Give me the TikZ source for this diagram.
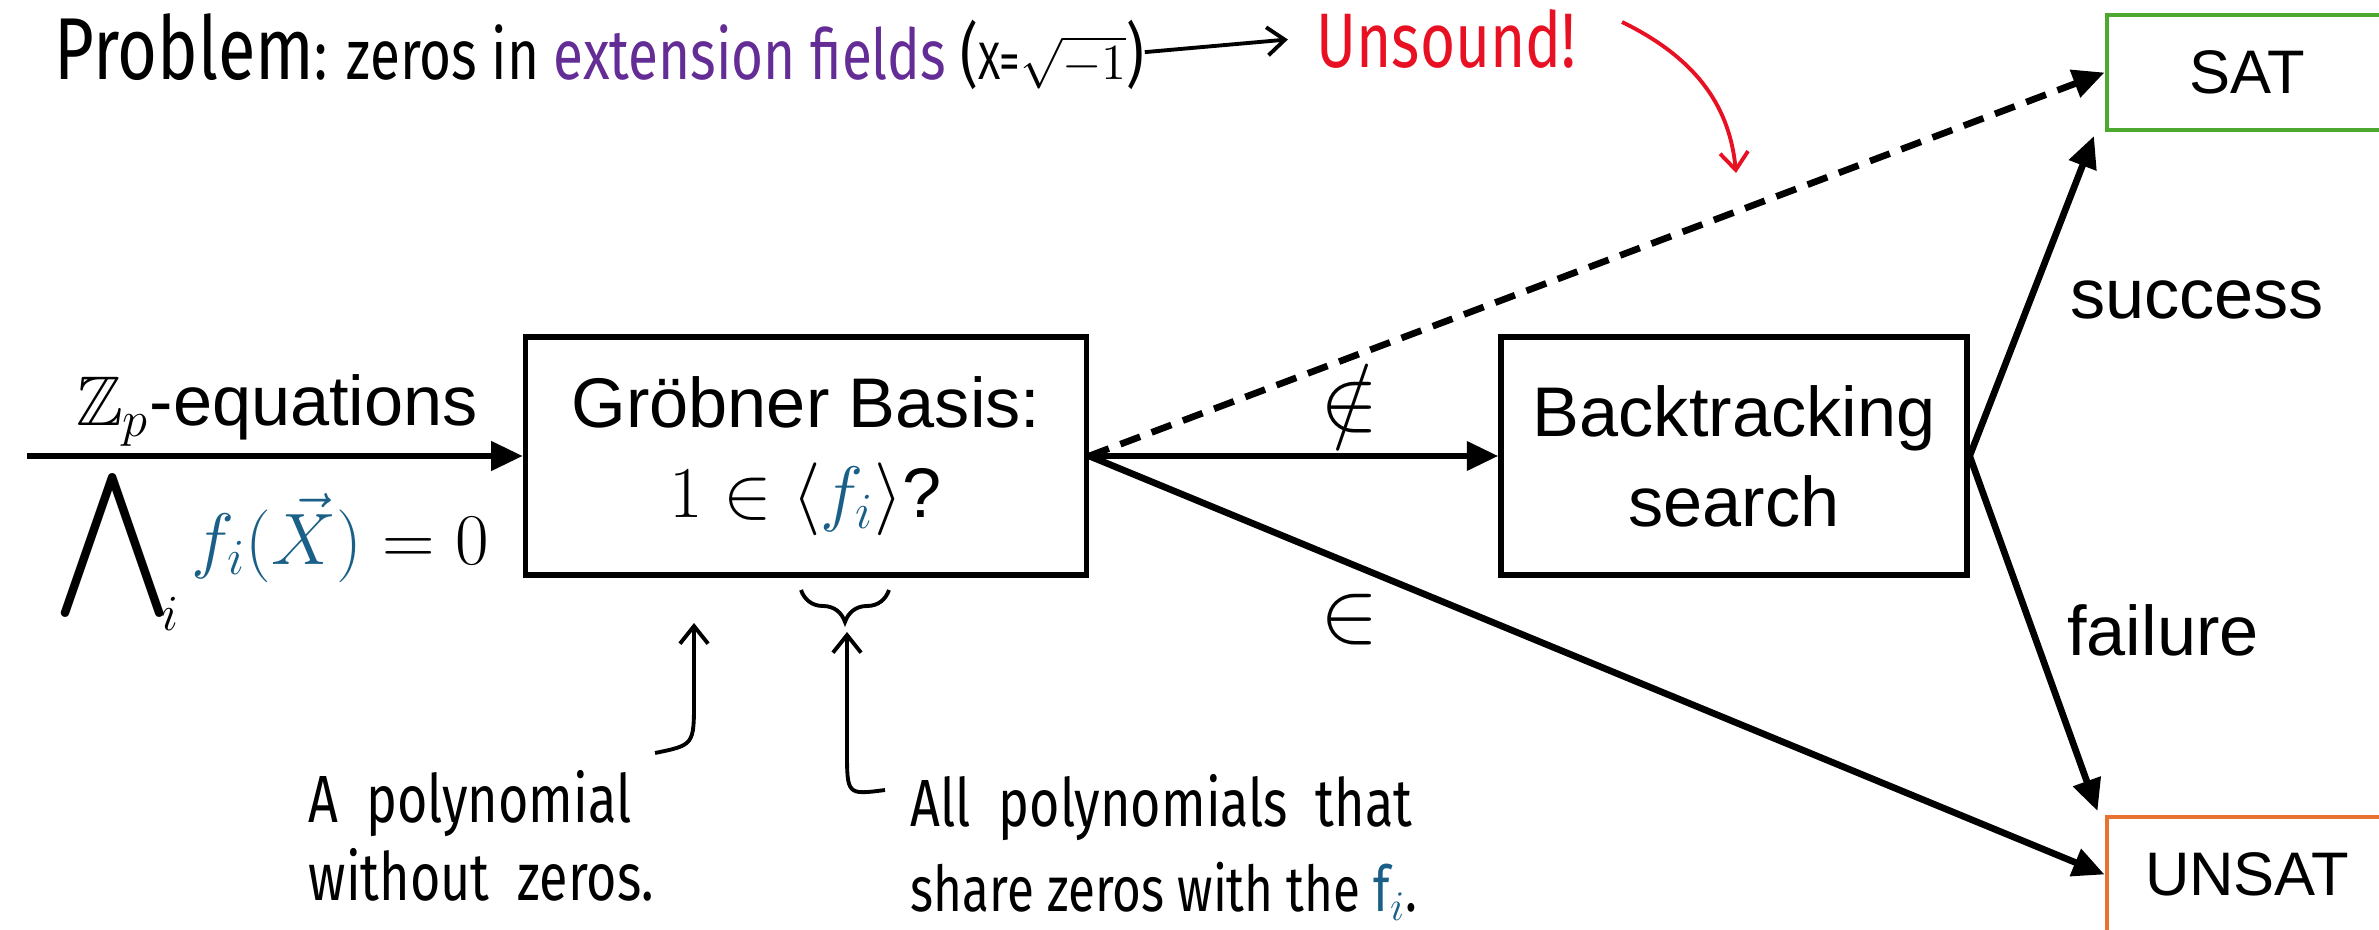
\documentclass[tikz,border=0pt]{standalone}
\usepackage{amsmath,amssymb}
\usepackage{fontspec}
\setmainfont{Liberation Sans}
\newfontfamily\handfont[FakeStretch=0.78]{Fira Sans}
\usetikzlibrary{arrows.meta,decorations.pathreplacing}

\definecolor{fblue}{RGB}{26,95,135}
\definecolor{extpurple}{RGB}{100,45,150}
\definecolor{unsoundred}{RGB}{232,17,35}
\definecolor{satgreen}{RGB}{78,167,46}
\definecolor{unsatorange}{RGB}{233,113,50}

\begin{document}
\begin{tikzpicture}[
	box/.style={draw, line width=1.5pt, minimum height=2.38cm, align=center, font=\fontsize{20}{25.6}\selectfont},
	result/.style={draw, line width=1.4pt, minimum width=2.8cm, minimum height=1.15cm, font=\fontsize{17.5}{21}\selectfont},
	flow/.style={line width=1.9pt, -{Triangle[length=9pt,width=8pt]}},
	lbl/.style={font=\fontsize{20}{24}\selectfont, inner sep=0pt},
	note/.style={font=\handfont\fontsize{19}{22}\selectfont, align=left, inner sep=0pt},
	hand/.style={line width=1.1pt, -{Straight Barb[length=5pt,width=8pt]}}
	]
	\useasboundingbox (0,0) rectangle (23.79,-9.30);

	% Boxes
	\node[box, minimum width=5.61cm] (grob) at (8.06,-4.56) {Gr\"obner Basis:\\$1 \in \langle \textcolor{fblue}{f_i} \rangle$?};
	\node[box, minimum width=4.66cm] (back) at (17.34,-4.56) {Backtracking\\search};
	\node[result, draw=satgreen] (sat) at (22.47,-0.725) {SAT};
	\node[result, draw=unsatorange] (unsat) at (22.47,-8.745) {UNSAT};

	% Input
	\coordinate (in) at (0.27,-4.56);
	\node[lbl, anchor=base] (zplbl) at (2.77,-4.26) {$\mathbb{Z}_p$-equations};
	\node[lbl, font=\fontsize{22}{26}\selectfont, anchor=base] (conj) at (2.72,-5.64) {$\mathop{\vcenter{\hbox{\scalebox{1.33}{$\displaystyle\bigwedge$}}}}\nolimits_{\!i} \textcolor{fblue}{f_i(\vec{X})} = 0$};

	% Edges
	\draw[flow] (in) -- (grob);
	\draw[flow] (grob.east) -- (back.west);
	\draw[flow, dash pattern=on 6pt off 3.5pt] (grob.east) -- (sat.west);
	\draw[flow] (grob.east) -- (unsat.west);
	\draw[flow] (back.east) -- ([xshift=-3pt,yshift=-1pt]sat.south west);
	\draw[flow] (back.east) -- ([xshift=-2pt,yshift=1pt]unsat.north west);

	% Edge labels
	\node[lbl, font=\fontsize{26}{30}\selectfont] (notinlbl) at (13.50,-3.98) {$\notin$};
	\node[lbl, font=\fontsize{26}{30}\selectfont] (inlbl) at (13.50,-6.20) {$\in$};
	\node[lbl] (succlbl) at (21.97,-3.00) {success};
	\node[lbl] (faillbl) at (21.63,-6.30) {failure};

	% Handwritten notes
	\node[note, font=\handfont\fontsize{20}{24}\selectfont, anchor=base west] (problem) at (0.54,-0.80) {{\fontsize{25}{30}\selectfont Problem}: zeros in \textcolor{extpurple}{extension fields} ({\fontsize{15}{18}\selectfont X=$\sqrt{-1}$})};
	\node[note, font=\handfont\fontsize{22}{26}\selectfont, anchor=base west, text=unsoundred] (unsound) at (13.16,-0.68) {Unsound!};
	\draw[hand] (problem.east) -- ([xshift=-8pt]unsound.west);
	\coordinate (redstart) at (16.22,-0.22);
	\coordinate (redtip) at (17.36,-1.73);
	\draw[hand, unsoundred] (redstart) .. controls (17.00,-0.60) and (17.30,-1.10) .. (redtip);

	\draw[line width=1.1pt, decorate, decoration={brace, mirror, amplitude=0.32cm}] (8.01,-5.90) -- (8.89,-5.90);

	\node[note, anchor=north west] (polynote) at (3.08,-7.70) {A \ polynomial\\without \ zeros.};
	\node[note, anchor=north west, font=\handfont\fontsize{19}{24}\selectfont] (sharenote) at (9.10,-7.74) {All \ polynomials \ that\\{\fontsize{18}{24}\selectfont share zeros with the \textcolor{fblue}{f$_i$}.}};
	\coordinate (polystart) at (6.55,-7.53);
	\coordinate (grobtip) at (6.94,-6.23);
	\coordinate (sharestart) at (8.85,-7.90);
	\coordinate (bracetip) at (8.47,-6.32);
	\draw[hand] (polystart) .. controls (6.94,-7.45) .. (6.94,-7.00) -- (grobtip);
	\draw[hand] (sharestart) .. controls (8.47,-7.95) .. (8.47,-7.50) -- (bracetip);
\end{tikzpicture}
\end{document}
